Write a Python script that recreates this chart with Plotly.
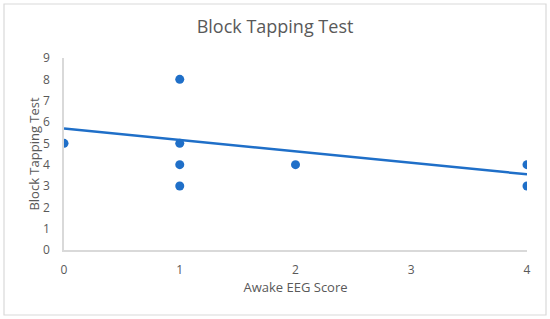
import plotly.graph_objects as go

# データ
eeg_score = [0, 1, 1, 1, 1, 2, 4, 4]
block_tapping = [5, 8, 5, 4, 3, 4, 4, 3]
trend_x = [0, 4]
trend_y = [5.7, 3.55]  # 近似曲線
x_ticks = [0, 1, 2, 3, 4]
y_ticks = [0, 1, 2, 3, 4, 5, 6, 7, 8, 9]

blue = "#1F6FC8"
grey_text = "#595959"
grey_line = "#D9D9D9"

fig = go.Figure()
fig.add_trace(go.Scatter(x=eeg_score, y=block_tapping, mode="markers",
                         marker=dict(size=9, color=blue), showlegend=False))
fig.add_trace(go.Scatter(x=trend_x, y=trend_y, mode="lines",
                         line=dict(color=blue, width=2.5), showlegend=False))

W, H = 550, 319
L, R, T, B = 64, 23, 58, 69
pw, ph = W - L - R, H - T - B

def px_x(p):
    return (p - L) / pw

def px_y(p):
    return (H - B - p) / ph

fig.update_layout(
    width=W, height=H,
    margin=dict(l=L, r=R, t=T, b=B, autoexpand=False),
    paper_bgcolor="white", plot_bgcolor="white",
    font=dict(family="Open Sans", color=grey_text, size=12),
    title=dict(text="Block Tapping Test", x=0.5, xanchor="center",
               y=1 - 27 / H, yanchor="middle",
               font=dict(size=18, color=grey_text)),
    xaxis=dict(range=[0, 4], tickvals=x_ticks, showgrid=False, zeroline=False,
               showline=True, linecolor=grey_line, linewidth=1.5,
               ticks="", ticklabelstandoff=8,
               title=dict(text="Awake EEG Score", font=dict(size=13, color=grey_text),
                          standoff=4)),
    yaxis=dict(range=[0, 9], tickvals=y_ticks, showgrid=False, zeroline=False,
               showline=True, linecolor=grey_line, linewidth=1.5,
               ticks="", ticklabelstandoff=10,
               title=dict(text="Block Tapping Test", font=dict(size=13, color=grey_text),
                          standoff=0)),
    shapes=[dict(type="rect", xref="paper", yref="paper",
                 x0=px_x(4), x1=px_x(546), y0=px_y(315), y1=px_y(4),
                 line=dict(color=grey_line, width=1.2), layer="below")],
)

fig.write_html("out.html", config={"displayModeBar": False},
               post_script="document.body.style.margin='0';")
